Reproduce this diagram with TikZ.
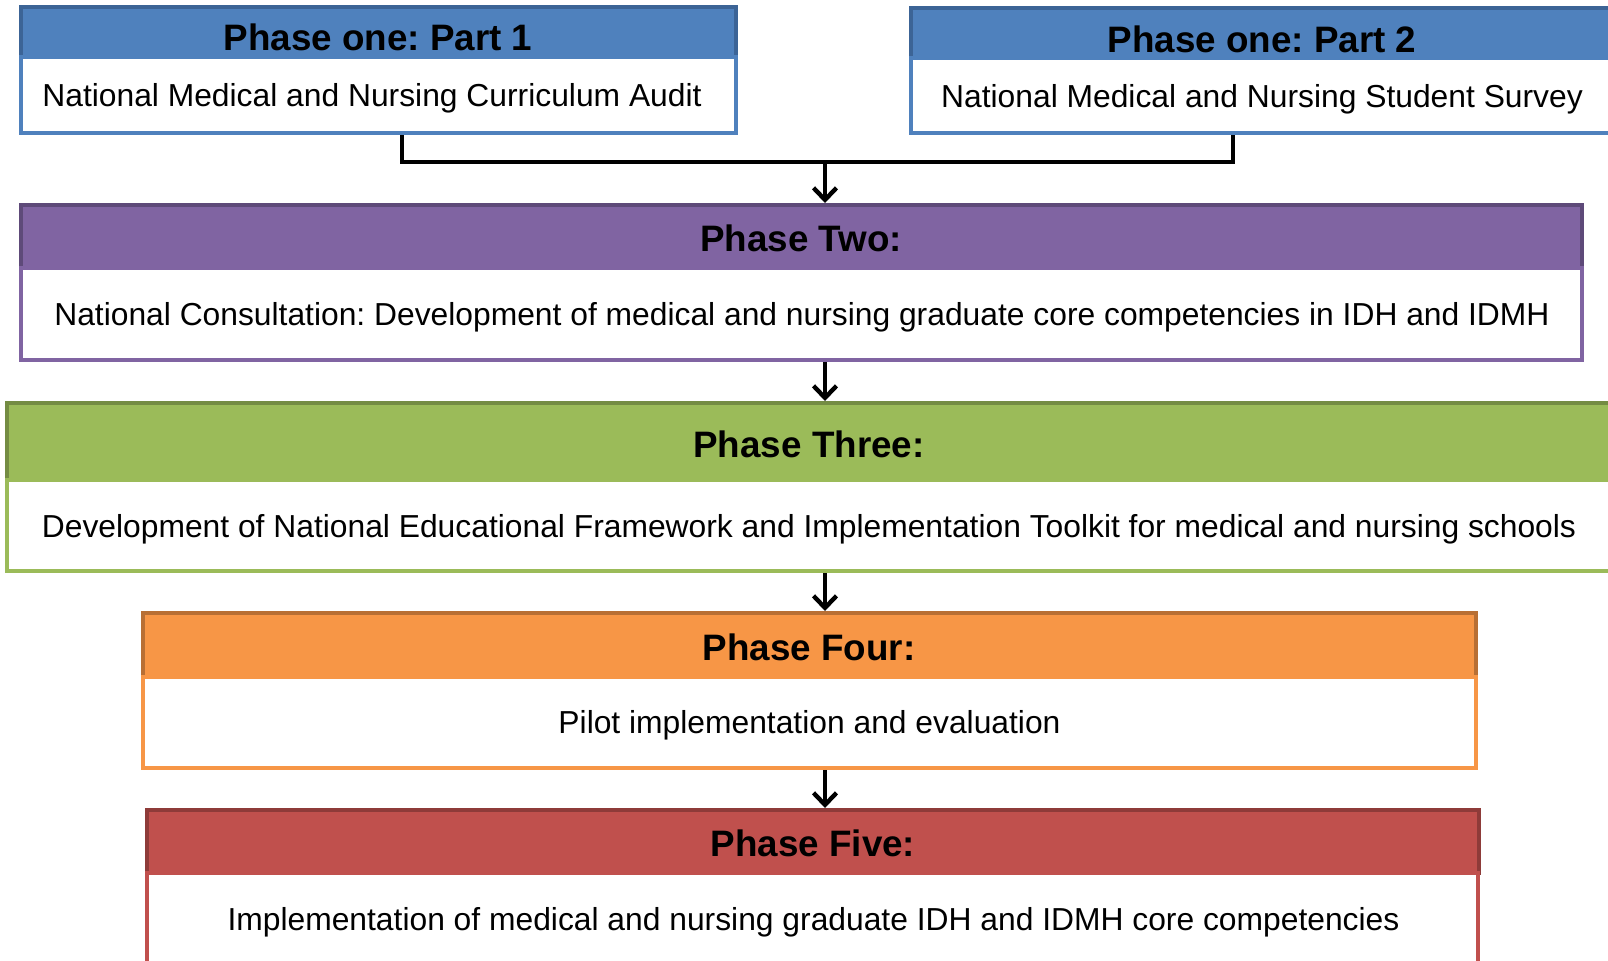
\documentclass[tikz,border=0pt]{standalone}
\usepackage{fontspec}
\setmainfont{Liberation Sans}
\usetikzlibrary{fit,arrows.meta}
\frenchspacing
\definecolor{cBlue}{HTML}{4F81BD}
\definecolor{cBlueD}{HTML}{3C6496}
\definecolor{cPurple}{HTML}{8064A2}
\definecolor{cPurpleD}{HTML}{5E4A79}
\definecolor{cGreen}{HTML}{9BBB59}
\definecolor{cGreenD}{HTML}{748C43}
\definecolor{cOrange}{HTML}{F79646}
\definecolor{cOrangeD}{HTML}{B86F34}
\definecolor{cRed}{HTML}{C0504D}
\definecolor{cRedD}{HTML}{8E3B39}
\tikzset{
  hdr/.style={rectangle, inner sep=0pt, line width=2pt},
  bdy/.style={rectangle, inner sep=0pt, line width=2pt, fill=white},
  htxt/.style={anchor=base, inner sep=0pt, font=\bfseries\fontsize{18.4pt}{21pt}\selectfont},
  btxt/.style={anchor=base, inner sep=0pt, font=\fontsize{15.9pt}{19pt}\selectfont},
  conn/.style={line width=2.2pt, line join=miter},
  arr/.style={line width=2.2pt, -{Straight Barb[length=6pt,width=11.5pt]}}
}
\begin{document}
\begin{tikzpicture}[x=0.5pt,y=-0.5pt]
\useasboundingbox (0,0) rectangle (1608,960);
\clip (0,0) rectangle (1608,960);
% Phase one part 1
\node[hdr, fill=cBlue, draw=cBlueD, fit={(21,7) (736,57)}] (h1) {};
\node[bdy, draw=cBlue, fit={(21,57) (736,133)}] (b1) {};
\node[htxt] (h1t) at (378,50) {Phase one: Part 1};
\node[btxt] (b1t) at (372,106) {National Medical and Nursing Curriculum Audit};
% Phase one part 2
\node[hdr, fill=cBlue, draw=cBlueD, fit={(911,8) (1613,58)}] (h2) {};
\node[bdy, draw=cBlue, fit={(911,58) (1613,133)}] (b2) {};
\node[htxt] (h2t) at (1262,52) {Phase one: Part 2};
\node[btxt] (b2t) at (1262,107) {National Medical and Nursing Student Survey};
% Phase two
\node[hdr, fill=cPurple, draw=cPurpleD, fit={(21,205) (1582,268)}] (h3) {};
\node[bdy, draw=cPurple, fit={(21,268) (1582,360)}] (b3) {};
\node[htxt] (h3t) at (801,251) {Phase Two:};
\node[btxt] (b3t) at (802,325) {National Consultation: Development of medical and nursing graduate core competencies in IDH and IDMH};
% Phase three
\node[hdr, fill=cGreen, draw=cGreenD, fit={(7,403) (1612,480)}] (h4) {};
\node[bdy, draw=cGreen, fit={(7,480) (1612,571)}] (b4) {};
\node[htxt] (h4t) at (809,457) {Phase Three:};
\node[btxt] (b4t) at (809,537) {Development of National Educational Framework and Implementation Toolkit for medical and nursing schools};
% Phase four
\node[hdr, fill=cOrange, draw=cOrangeD, fit={(143,613) (1476,677)}] (h5) {};
\node[bdy, draw=cOrange, fit={(143,677) (1476,768)}] (b5) {};
\node[htxt] (h5t) at (809,660) {Phase Four:};
\node[btxt] (b5t) at (809.5,733) {Pilot implementation and evaluation};
% Phase five
\node[hdr, fill=cRed, draw=cRedD, fit={(147,810) (1479,873)}] (h6) {};
\node[bdy, draw=cRed, fit={(147,873) (1478,990)}] (b6) {};
\node[htxt] (h6t) at (813,856) {Phase Five:};
\node[btxt] (b6t) at (813.5,930) {Implementation of medical and nursing graduate IDH and IDMH core competencies};
% connectors
\coordinate (j) at (825,162);
\draw[conn] ([xshift=11.75pt]b1.south) |- (j) -| ([xshift=-14.5pt]b2.south);
\draw[arr] (j) -- (j |- h3.north);
\draw[arr] (b3.south -| j) -- (h4.north -| j);
\draw[arr] (b4.south -| j) -- (h5.north -| j);
\draw[arr] (b5.south -| j) -- (h6.north -| j);
\end{tikzpicture}
\end{document}
